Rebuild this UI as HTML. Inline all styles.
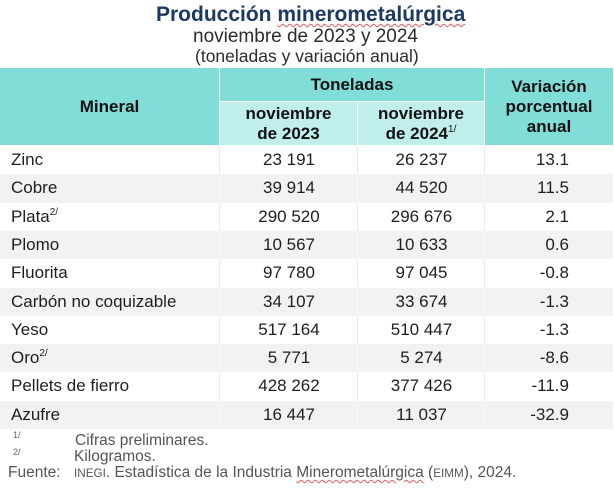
<!DOCTYPE html>
<html>
<head>
<meta charset="utf-8">
<style>
  html, body { margin:0; padding:0; }
  body { width:614px; height:489px; position:relative; background:#fff; overflow:hidden;
         font-family:"Liberation Sans", Arial, sans-serif; }
  .a { position:absolute; white-space:nowrap; }
  .t1 { left:156px; top:4px; font-size:21px; line-height:21px; font-weight:bold; color:#1b3962; }
  .t2 { left:193px; top:27px; font-size:19px; line-height:19px; color:#2b2b2b; }
  .t3 { left:195px; top:48px; font-size:17.5px; line-height:17.5px; color:#2b2b2b; }
  .wavy { text-decoration: underline wavy #e25a5a; text-decoration-thickness:1px; text-underline-offset:2px; }
  .h { position:absolute; display:flex; align-items:center; justify-content:center; text-align:center;
       font-weight:bold; font-size:17px; line-height:20px; color:#111; }
  .teal { background:#80ddd8; }
  .lteal { background:#bfeeeb; }
  .row { position:absolute; left:0; width:613px; height:28.3px; }
  .g { background:#f2f2f2; }
  .c { position:absolute; top:0; font-size:17px; line-height:28.3px; color:#1e1e1e; white-space:nowrap; }
  .c1 { left:11px; }
  .c2 { left:220px; width:138px; text-align:center; }
  .c3 { left:358px; width:127px; text-align:center; }
  .c4 { left:485px; width:84px; text-align:right; }
  .vl { position:absolute; top:0; width:1px; height:100%; background:#e9e9e9; }
  .g .vl { background:#f9f9f9; }
  sup.s { font-size:10px; line-height:0; vertical-align:0; position:relative; top:-7px; }
  .fn { position:absolute; font-size:15.5px; line-height:16px; color:#555; white-space:nowrap; }
  .fs { position:absolute; font-size:9px; line-height:9px; color:#666; }
  .sc { font-size:11.7px; }
</style>
</head>
<body>
  <div class="a t1">Producción <span class="wavy">minerometalúrgica</span></div>
  <div class="a t2">noviembre de 2023 y 2024</div>
  <div class="a t3">(toneladas y variación anual)</div>

  <!-- header -->
  <div class="h teal" style="left:0;top:68px;width:219px;height:77px;">Mineral</div>
  <div class="h teal" style="left:220px;top:68px;width:264px;height:33px;">Toneladas</div>
  <div class="h lteal" style="left:220px;top:102px;width:137px;height:43px;">noviembre<br>de 2023</div>
  <div class="h lteal" style="left:358px;top:102px;width:126px;height:43px;"><span>noviembre<br>de 2024<sup class="s" style="font-weight:normal;">1/</sup></span></div>
  <div class="h teal" style="left:485px;top:68px;width:128px;height:77px;">Variación<br>porcentual<br>anual</div>

  <!-- body rows -->
  <div class="row" style="top:146px;"><div class="vl" style="left:219px"></div><div class="vl" style="left:357px"></div><div class="vl" style="left:484px"></div>
    <div class="c c1">Zinc</div><div class="c c2">23 191</div><div class="c c3">26 237</div><div class="c c4">13.1</div></div>
  <div class="row g" style="top:174.3px;"><div class="vl" style="left:219px"></div><div class="vl" style="left:357px"></div><div class="vl" style="left:484px"></div>
    <div class="c c1">Cobre</div><div class="c c2">39 914</div><div class="c c3">44 520</div><div class="c c4">11.5</div></div>
  <div class="row" style="top:202.6px;"><div class="vl" style="left:219px"></div><div class="vl" style="left:357px"></div><div class="vl" style="left:484px"></div>
    <div class="c c1">Plata<sup class="s">2/</sup></div><div class="c c2">290 520</div><div class="c c3">296 676</div><div class="c c4">2.1</div></div>
  <div class="row g" style="top:230.9px;"><div class="vl" style="left:219px"></div><div class="vl" style="left:357px"></div><div class="vl" style="left:484px"></div>
    <div class="c c1">Plomo</div><div class="c c2">10 567</div><div class="c c3">10 633</div><div class="c c4">0.6</div></div>
  <div class="row" style="top:259.2px;"><div class="vl" style="left:219px"></div><div class="vl" style="left:357px"></div><div class="vl" style="left:484px"></div>
    <div class="c c1">Fluorita</div><div class="c c2">97 780</div><div class="c c3">97 045</div><div class="c c4">-0.8</div></div>
  <div class="row g" style="top:287.5px;"><div class="vl" style="left:219px"></div><div class="vl" style="left:357px"></div><div class="vl" style="left:484px"></div>
    <div class="c c1">Carbón no coquizable</div><div class="c c2">34 107</div><div class="c c3">33 674</div><div class="c c4">-1.3</div></div>
  <div class="row" style="top:315.8px;"><div class="vl" style="left:219px"></div><div class="vl" style="left:357px"></div><div class="vl" style="left:484px"></div>
    <div class="c c1">Yeso</div><div class="c c2">517 164</div><div class="c c3">510 447</div><div class="c c4">-1.3</div></div>
  <div class="row g" style="top:344.1px;"><div class="vl" style="left:219px"></div><div class="vl" style="left:357px"></div><div class="vl" style="left:484px"></div>
    <div class="c c1">Oro<sup class="s">2/</sup></div><div class="c c2">5 771</div><div class="c c3">5 274</div><div class="c c4">-8.6</div></div>
  <div class="row" style="top:372.4px;"><div class="vl" style="left:219px"></div><div class="vl" style="left:357px"></div><div class="vl" style="left:484px"></div>
    <div class="c c1">Pellets de fierro</div><div class="c c2">428 262</div><div class="c c3">377 426</div><div class="c c4">-11.9</div></div>
  <div class="row g" style="top:400.7px;"><div class="vl" style="left:219px"></div><div class="vl" style="left:357px"></div><div class="vl" style="left:484px"></div>
    <div class="c c1">Azufre</div><div class="c c2">16 447</div><div class="c c3">11 037</div><div class="c c4">-32.9</div></div>

  <!-- footnotes -->
  <div class="fs" style="left:13px;top:431px;">1/</div>
  <div class="fn" style="left:75px;top:432.6px;">Cifras preliminares.</div>
  <div class="fs" style="left:13px;top:448px;">2/</div>
  <div class="fn" style="left:74px;top:449.3px;">Kilogramos.</div>
  <div class="fn" style="left:8px;top:464.8px;">Fuente:</div>
  <div class="fn" style="left:74px;top:464.8px;"><span class="sc">INEGI</span>. Estadística de la Industria <span class="wavy">Minerometalúrgica</span> (<span class="sc">EIMM</span>), 2024.</div>
</body>
</html>
